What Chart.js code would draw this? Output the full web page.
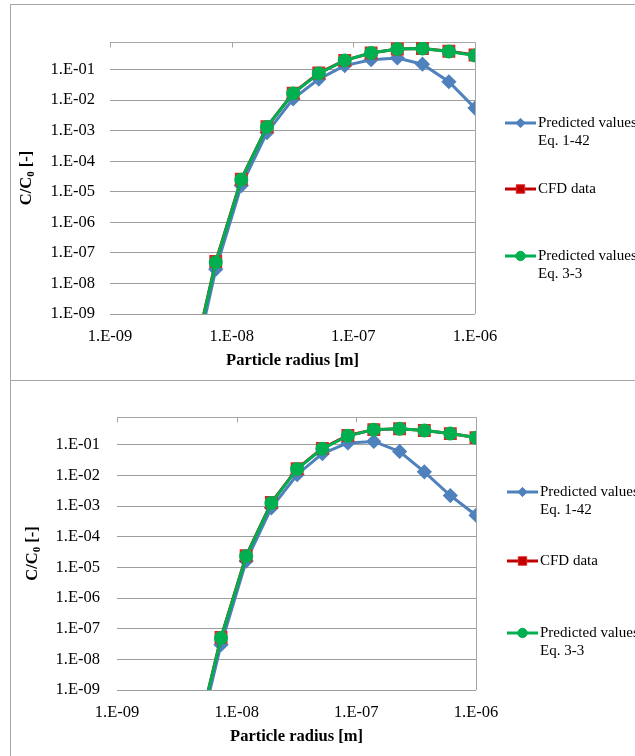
<!DOCTYPE html>
<html>
<head>
<meta charset="utf-8">
<script src="https://cdn.jsdelivr.net/npm/chart.js"></script>
<style>
  html, body { margin: 0; padding: 0; background: #fff; overflow: hidden; width: 635px; height: 756px; }
  .box { position: absolute; left: 10px; width: 660px; border: 1px solid #a6a6a6; background: #fff; }
  #box1 { top: 4px; height: 375px; }
  #box2 { top: 380px; height: 380px; }
  canvas { display: block; }
</style>
</head>
<body>
<div class="box" id="box1"><canvas id="c1" width="640" height="375"></canvas></div>
<div class="box" id="box2"><canvas id="c2" width="640" height="375"></canvas></div>
<script>
// particle radius [m]
const radius = [4.5e-9, 7.4e-9, 1.2e-8, 1.95e-8, 3.2e-8, 5.2e-8, 8.5e-8, 1.4e-7, 2.3e-7, 3.7e-7, 6.1e-7, 1.0e-6]

// upper chart, C/C0
const topEq142 = [4e-12, 2.9e-8, 1.6e-5, 8.7e-4, 0.011, 0.049, 0.135, 0.21, 0.24, 0.15, 0.04, 0.0055]
const topCfd = [9e-12, 5.2e-8, 2.6e-5, 1.35e-3, 0.017, 0.077, 0.2, 0.35, 0.47, 0.49, 0.4, 0.3]
const topEq33 = [8e-12, 4.9e-8, 2.5e-5, 1.33e-3, 0.0166, 0.075, 0.2, 0.35, 0.47, 0.49, 0.39, 0.29]

// lower chart, C/C0
const botEq142 = [1e-11, 3e-8, 1.6e-5, 8.7e-4, 0.0105, 0.051, 0.114, 0.128, 0.06, 0.013, 0.0022, 5e-4]
const botCfd = [1.6e-11, 5.2e-8, 2.4e-5, 1.3e-3, 0.0165, 0.076, 0.2, 0.31, 0.33, 0.29, 0.23, 0.17]
const botEq33 = [1.6e-11, 5e-8, 2.3e-5, 1.26e-3, 0.016, 0.074, 0.195, 0.31, 0.33, 0.29, 0.23, 0.17]

const seriesNames = [['Predicted values', 'Eq. 1-42'], ['CFD data'], ['Predicted values', 'Eq. 3-3']]

const xTickValues = [1e-9, 1e-8, 1e-7, 1e-6]
const xTickLabels = ['1.E-09', '1.E-08', '1.E-07', '1.E-06']
const yTickValues = [1e-9, 1e-8, 1e-7, 1e-6, 1e-5, 1e-4, 1e-3, 1e-2, 1e-1]
const yTickLabels = ['1.E-09', '1.E-08', '1.E-07', '1.E-06', '1.E-05', '1.E-04', '1.E-03', '1.E-02', '1.E-01']

const xTitle = 'Particle radius [m]'
const yTitleParts = ['C/C', '0', ' [-]']

const SERIF = '"Liberation Serif", "Times New Roman", serif'
const GRID = '#9d9d9d'
const AXIS = '#a6a6a6'

function drawMarker(ctx, style, x, y, r, fill, stroke) {
  ctx.beginPath()
  if (style === 'rectRot') {
    ctx.moveTo(x, y - r); ctx.lineTo(x + r, y); ctx.lineTo(x, y + r); ctx.lineTo(x - r, y); ctx.closePath()
  } else if (style === 'rect') {
    const s = r * Math.SQRT1_2
    ctx.rect(x - s, y - s, 2 * s, 2 * s)
  } else {
    ctx.arc(x, y, r, 0, Math.PI * 2)
  }
  ctx.fillStyle = fill
  ctx.fill()
  ctx.lineWidth = 1
  ctx.strokeStyle = stroke
  ctx.stroke()
}

// Excel-like frame: x axis line on top with inside ticks, y axis line on the right,
// rotated y title with subscript and a hand placed legend
const excelDecor = {
  id: 'excelDecor',
  beforeDatasetsDraw(chart) {
    const { ctx, chartArea: a, scales: { x } } = chart
    const t = Math.round(a.top) + 0.5
    const r = Math.round(a.right) + 0.5
    ctx.save()
    ctx.strokeStyle = AXIS
    ctx.lineWidth = 1
    ctx.beginPath()
    ctx.moveTo(a.left, t)
    ctx.lineTo(r, t)
    ctx.lineTo(r, a.bottom)
    xTickValues.forEach(v => {
      const px = Math.round(x.getPixelForValue(v)) + 0.5
      ctx.moveTo(px, t)
      ctx.lineTo(px, t + 5)
    })
    ctx.stroke()
    ctx.restore()
  },
  afterDraw(chart, args, opts) {
    const { ctx, chartArea: a } = chart
    ctx.save()

    // y title
    const big = 'bold 16.5px ' + SERIF
    const small = 'bold 11px ' + SERIF
    ctx.font = big
    const w0 = ctx.measureText(yTitleParts[0]).width
    const w2 = ctx.measureText(yTitleParts[2]).width
    ctx.font = small
    const w1 = ctx.measureText(yTitleParts[1]).width
    ctx.translate(opts.yTitleX, (a.top + a.bottom) / 2)
    ctx.rotate(-Math.PI / 2)
    ctx.fillStyle = '#000'
    ctx.textBaseline = 'middle'
    ctx.textAlign = 'left'
    let sx = -(w0 + w1 + w2) / 2
    ctx.font = big
    ctx.fillText(yTitleParts[0], sx, 0)
    sx += w0
    ctx.font = small
    ctx.fillText(yTitleParts[1], sx, 4)
    sx += w1
    ctx.font = big
    ctx.fillText(yTitleParts[2], sx, 0)
    ctx.setTransform(1, 0, 0, 1, 0, 0)

    // legend
    const L = opts.legend
    chart.data.datasets.forEach((ds, i) => {
      const y = L.rows[i]
      ctx.strokeStyle = ds.borderColor
      ctx.lineWidth = 3
      ctx.beginPath()
      ctx.moveTo(L.x0, y)
      ctx.lineTo(L.x1, y)
      ctx.stroke()
      drawMarker(ctx, ds.pointStyle, (L.x0 + L.x1) / 2, y, ds.pointRadius * 0.85, ds.pointBackgroundColor, ds.pointBorderColor)
      ctx.fillStyle = '#000'
      ctx.font = '15px ' + SERIF
      ctx.textBaseline = 'middle'
      ctx.textAlign = 'left'
      seriesNames[i].forEach((line, j) => ctx.fillText(line, L.textX, y + j * L.gap))
    })
    ctx.restore()
  }
}

function makeChart(id, eq142, cfd, eq33, geo) {
  const pts = vals => radius.map((r, i) => ({ x: r, y: vals[i] }))
  return new Chart(document.getElementById(id), {
    type: 'line',
    data: {
      datasets: [
        {
          label: seriesNames[0].join(' '),
          data: pts(eq142),
          borderColor: '#4F81BD',
          backgroundColor: '#4F81BD',
          pointBackgroundColor: '#4F81BD',
          pointBorderColor: '#4F81BD',
          pointStyle: 'rectRot',
          pointRadius: 5.5,
          borderWidth: 3,
          order: 3,
        },
        {
          label: seriesNames[1].join(' '),
          data: pts(cfd),
          borderColor: '#C00000',
          backgroundColor: '#C00000',
          pointBackgroundColor: '#C00000',
          pointBorderColor: '#E52222',
          pointStyle: 'rect',
          pointRadius: 7,
          borderWidth: 3,
          order: 2,
        },
        {
          label: seriesNames[2].join(' '),
          data: pts(eq33),
          borderColor: '#00B050',
          backgroundColor: '#00B050',
          pointBackgroundColor: '#00B050',
          pointBorderColor: '#00B050',
          pointStyle: 'circle',
          pointRadius: 5.5,
          borderWidth: 3,
          order: 1,
        },
      ],
    },
    options: {
      responsive: false,
      animation: false,
      events: [],
      layout: { autoPadding: false, padding: geo.padding },
      plugins: {
        legend: { display: false },
        tooltip: { enabled: false },
        excelDecor: { yTitleX: geo.yTitleX, legend: geo.legend },
      },
      scales: {
        x: {
          type: 'logarithmic',
          min: 1e-9,
          max: 1e-6,
          afterBuildTicks: s => { s.ticks = xTickValues.map(v => ({ value: v })) },
          afterFit: s => { s.height = geo.xHeight },
          grid: { display: false, drawTicks: false },
          border: { display: false },
          ticks: {
            autoSkip: false,
            maxRotation: 0,
            padding: geo.xPad,
            color: '#000',
            font: { family: SERIF, size: 16.5 },
            callback: (v, i) => xTickLabels[i],
          },
          title: {
            display: true,
            text: xTitle,
            color: '#000',
            font: { family: SERIF, size: 16.5, weight: 'bold' },
            padding: { top: 0, bottom: 3 },
          },
        },
        y: {
          type: 'logarithmic',
          min: 1e-9,
          max: 0.8,
          afterBuildTicks: s => { s.ticks = yTickValues.map(v => ({ value: v })) },
          afterFit: s => { s.width = geo.yWidth },
          grid: { color: GRID, lineWidth: 1, drawTicks: false },
          border: { display: false },
          ticks: {
            autoSkip: false,
            padding: geo.yPad,
            color: '#000',
            font: { family: SERIF, size: 16.5 },
            callback: (v, i) => yTickLabels[i],
          },
        },
      },
    },
    plugins: [excelDecor],
  })
}

makeChart('c1', topEq142, topCfd, topEq33, {
  padding: { left: 0, top: 37, right: 176, bottom: 6 },
  yWidth: 99,
  xHeight: 60,
  xPad: 13,
  yPad: 15,
  yTitleX: 16,
  legend: { x0: 494, x1: 525, textX: 527, rows: [118, 184, 251], gap: 18 },
})

makeChart('c2', botEq142, botCfd, botEq33, {
  padding: { left: 0, top: 36, right: 175, bottom: 6 },
  yWidth: 106,
  xHeight: 60,
  xPad: 13,
  yPad: 17,
  yTitleX: 22,
  legend: { x0: 496, x1: 527, textX: 529, rows: [111, 180, 252], gap: 18 },
})
</script>
</body>
</html>
